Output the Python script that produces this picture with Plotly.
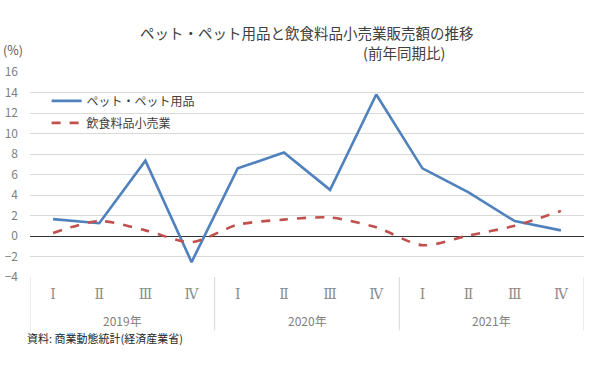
import plotly.graph_objects as go

quarters = ["Ⅰ", "Ⅱ", "Ⅲ", "Ⅳ"] * 3
years = ["2019年", "2020年", "2021年"]
pet = [1.65, 1.25, 7.35, -2.55, 6.6, 8.15, 4.5, 13.8, 6.6, 4.25, 1.45, 0.55]
food = [0.3, 1.45, 0.55, -0.6, 1.1, 1.6, 1.8, 0.85, -0.9, 0.05, 1.0, 2.45]
yticks = [-4, -2, 0, 2, 4, 6, 8, 10, 12, 14, 16]

FONT = "Noto Sans CJK JP"
x = list(range(len(pet)))

fig = go.Figure()
fig.add_trace(go.Scatter(x=x, y=pet, mode="lines", name="ペット・ペット用品",
                         legendgroup="a",
                         line=dict(color="#4f81bd", width=2.6)))
fig.add_trace(go.Scatter(x=x, y=food, mode="lines", name="飲食料品小売業",
                         legendgroup="b",
                         line=dict(color="#c0504d", width=2.6, dash="dash", shape="spline", smoothing=0.8)))

fig.update_layout(
    width=600, height=374,
    margin=dict(l=30, r=16, t=72, b=97),
    paper_bgcolor="white", plot_bgcolor="white",
    font=dict(family=FONT, color="#595959", size=12),
    showlegend=True,
    legend=dict(x=0.03, y=0.93, xanchor="left", yanchor="top",
                bgcolor="rgba(0,0,0,0)", font=dict(size=12, color="#404040"),
                tracegroupgap=3),
    xaxis=dict(range=[-0.5, 11.5], tickvals=x, ticktext=quarters,
               showgrid=False, zeroline=False, showline=False, automargin=False,
               ticks="outside", ticklen=4, tickcolor="rgba(0,0,0,0)",
               tickfont=dict(size=14, color="#8c8c8c", family="DejaVu Serif")),
    yaxis=dict(range=[-4, 16], tickvals=yticks, showgrid=True,
               gridcolor="#d9d9d9", gridwidth=1, automargin=False,
               zeroline=True, zerolinecolor="#333333", zerolinewidth=1,
               showline=False, ticks="", ticklabelstandoff=11,
               tickfont=dict(size=12, color="#808080", family=FONT)),
)

# category group separators
for b in [-0.5, 3.5, 7.5, 11.5]:
    fig.add_shape(type="line", xref="x", yref="paper", x0=b, x1=b, y0=0, y1=-0.26,
                  line=dict(color="#d9d9d9", width=1))

for i, yr in enumerate(years):
    fig.add_annotation(x=i * 4 + 1.5, y=-(320 - 277) / 205, xref="x", yref="paper", text=yr,
                       yanchor="middle", showarrow=False,
                       font=dict(size=12, color="#808080", family=FONT))

fig.add_annotation(x=0.5, y=1.0, xref="paper", yref="paper", yanchor="middle",
                   xanchor="center", text="ペット・ペット用品と飲食料品小売業販売額の推移",
                   showarrow=False, font=dict(size=14.5, color="#404040", family=FONT),
                   yshift=(277 - 32) - 205)
fig.add_annotation(x=(447 - 30) / 554, y=1.0, xref="paper", yref="paper", yanchor="middle",
                   xanchor="right", text="(前年同期比)",
                   showarrow=False, font=dict(size=14.5, color="#404040", family=FONT),
                   yshift=(277 - 52) - 205)
fig.add_annotation(x=-29 / 554, y=1.0, xref="paper", yref="paper", yanchor="middle",
                   xanchor="left", text="(%)",
                   showarrow=False, font=dict(size=12.5, color="#595959", family=FONT),
                   yshift=(277 - 49) - 205)
fig.add_annotation(x=-5 / 554, y=-(338 - 277) / 205, xref="paper", yref="paper", yanchor="middle",
                   xanchor="left", text="資料: 商業動態統計(経済産業省)",
                   showarrow=False, font=dict(size=11, color="#262626", family=FONT))

fig.write_html("out.html", config={"displayModeBar": False},
               post_script="document.body.style.margin='0';")
